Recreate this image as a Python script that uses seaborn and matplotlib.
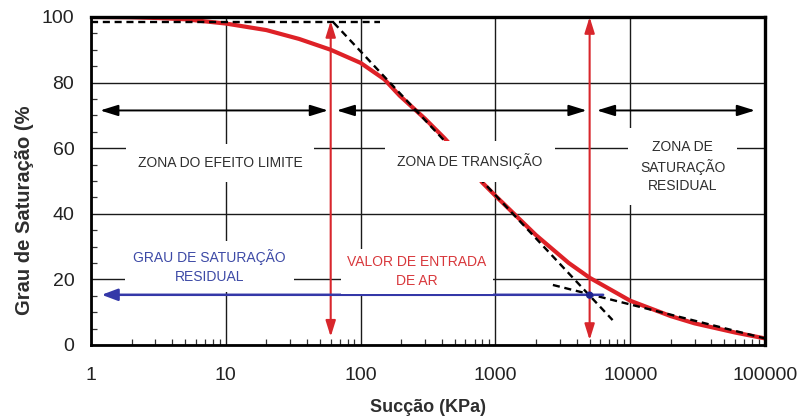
import matplotlib
matplotlib.use("Agg")
import matplotlib.pyplot as plt
import seaborn as sns
from matplotlib.ticker import FixedLocator, FixedFormatter, LogLocator, MultipleLocator, NullFormatter

# Soil-water retention curve: degree of saturation vs. suction
suction_kpa = [1, 2, 3, 5, 10, 20, 35, 60, 100, 150, 195, 300, 420, 600, 800,
               1000, 2000, 3500, 5000, 10000, 20000, 30000, 60000, 100000]
saturation_pct = [100, 99.9, 99.7, 99.3, 98.0, 96.0, 93.3, 90.0, 86.0, 81.0, 76.0,
                  69.0, 63.0, 56.0, 49.5, 45.5, 33.5, 25.0, 20.5, 13.5, 8.8, 6.6, 3.8, 2.0]

# Construction lines (tangents)
plateau_x = [1, 140]
plateau_y = [98.5, 98.5]
entry_tangent_x = [63, 7400]
entry_tangent_y = [98.3, 7.6]
residual_tangent_x = [2670, 100000]
residual_tangent_y = [18.3, 2.0]

# Characteristic points
air_entry_kpa = 60
residual_kpa = 5000
residual_sr = 15.3

# Zone extents (black double arrows)
zone_arrow_y = 71.5
zone_bounds = [(1.17, 57.3), (66.5, 4750), (5660, 84300)]

x_ticks = [1, 10, 100, 1000, 10000, 100000]
x_tick_labels = ["1", "10", "100", "1000", "10000", "100000"]
y_ticks = [0, 20, 40, 60, 80, 100]

red = "#de2127"
arrow_red = "#d8262c"
blue = "#3438a8"
text_gray = "#2e2e2e"

sns.set_theme(style="white")
plt.rcParams["font.family"] = ["Liberation Sans", "DejaVu Sans"]
narrow = ["Liberation Sans Narrow", "Liberation Sans", "DejaVu Sans"]

fig = plt.figure(figsize=(8, 4.17), dpi=100)
ax = fig.add_axes([0.11375, 0.1727, 0.8425, 0.7866])

# Curve and tangents
sns.lineplot(x=suction_kpa, y=saturation_pct, ax=ax, color=red, lw=3.0, zorder=3)
dash = dict(color="black", lw=1.7, linestyle=(0, (3, 2)), zorder=4)
sns.lineplot(x=plateau_x, y=plateau_y, ax=ax, **dash)
sns.lineplot(x=entry_tangent_x, y=entry_tangent_y, ax=ax, **dash)
sns.lineplot(x=residual_tangent_x, y=residual_tangent_y, ax=ax, **dash)

ax.set_xscale("log")
ax.set_xlim(1, 100000)
ax.set_ylim(0, 100)

# Vertical red arrows at air-entry value and residual suction
red_arrow = dict(arrowstyle="<|-|>,head_length=0.8,head_width=0.25",
                 color=arrow_red, lw=1.5, shrinkA=0, shrinkB=0)
ax.annotate("", xy=(air_entry_kpa, 2.5), xytext=(air_entry_kpa, 98.8),
            arrowprops=red_arrow, zorder=5)
ax.annotate("", xy=(residual_kpa, 1.5), xytext=(residual_kpa, 100),
            arrowprops=red_arrow, zorder=5)

# Zone extents
for x0, x1 in zone_bounds:
    ax.annotate("", xy=(x0, zone_arrow_y), xytext=(x1, zone_arrow_y),
                arrowprops=dict(arrowstyle="<|-|>,head_length=0.9,head_width=0.28",
                                color="black", lw=1.4, shrinkA=0, shrinkB=0),
                zorder=5)

# Residual degree of saturation
ax.annotate("", xy=(1.2, residual_sr), xytext=(6300, residual_sr),
            arrowprops=dict(arrowstyle="-|>,head_length=0.8,head_width=0.3",
                            color=blue, lw=1.8, shrinkA=0, shrinkB=0),
            zorder=5)
sns.scatterplot(x=[residual_kpa], y=[15.2], ax=ax, color="#1e2290", s=28,
                edgecolor="none", zorder=6)

# Labels with white backgrounds
def label(x, y, s, color=text_gray, pad=0.85):
    ax.text(x, y, s, ha="center", va="center", fontsize=10, color=color,
            linespacing=1.4, zorder=7,
            bbox=dict(boxstyle=f"square,pad={pad}", fc="white", ec="none"))

label(9.06, 55.5, "ZONA DO EFEITO LIMITE")
label(650, 56.0, "ZONA DE TRANSIÇÃO", pad=0.9)
label(24600, 54.4, "ZONA DE\nSATURAÇÃO\nRESIDUAL")
label(7.6, 23.9, "GRAU DE SATURAÇÃO\nRESIDUAL", color="#3d4aa6", pad=0.6)
label(261, 22.4, "VALOR DE ENTRADA\nDE AR", color="#d8383c", pad=0.45)

# Axes styling
ax.grid(True, which="major", color="#1a1a1a", lw=1.0)
ax.set_axisbelow(True)
for side, sp in ax.spines.items():
    sp.set_color("black")
    sp.set_linewidth(2.4 if side in ("top", "right") else 2.0)
    sp.set_zorder(8)

ax.xaxis.set_major_locator(FixedLocator(x_ticks))
ax.xaxis.set_major_formatter(FixedFormatter(x_tick_labels))
ax.xaxis.set_minor_locator(LogLocator(base=10, subs=range(2, 10)))
ax.xaxis.set_minor_formatter(NullFormatter())
ax.yaxis.set_major_locator(FixedLocator(y_ticks))
ax.yaxis.set_minor_locator(MultipleLocator(5))

ax.tick_params(axis="x", which="major", length=0, pad=16, labelsize=14, labelcolor="#222222")
ax.tick_params(axis="y", which="major", length=0, pad=12, labelsize=14, labelcolor="#222222")
ax.tick_params(which="minor", direction="in", length=4, width=0.9, color="#333333",
               bottom=True, left=True, top=False, right=False)

ax.set_xlabel("Sucção (KPa)", fontsize=13, fontweight="bold", family=narrow,
              color=text_gray, labelpad=11)
ax.set_ylabel("Grau de Saturação (%", fontsize=14.5, fontweight="bold", family=narrow,
              color=text_gray, labelpad=9)
ax.yaxis.set_label_coords(-0.085, 0.41)

fig.savefig("out.png", dpi=100, facecolor="white")
